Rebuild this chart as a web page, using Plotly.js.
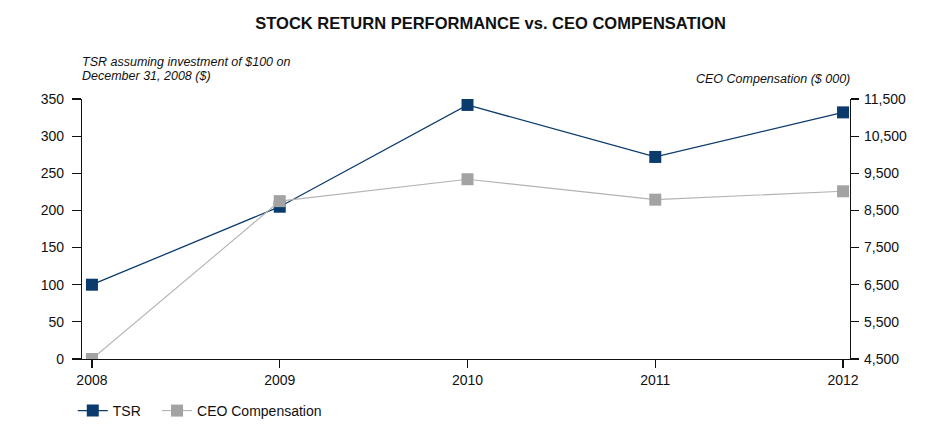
<!DOCTYPE html>
<html>
<head>
<meta charset="utf-8">
<script src="https://cdn.plot.ly/plotly-3.0.1.min.js"></script>
<style>html,body{margin:0;padding:0;background:#fff;}#chart{width:949px;height:431px;}</style>
</head>
<body>
<div id="chart"></div>
<script>
const years = [2008, 2009, 2010, 2011, 2012];
const tsr = [100, 205, 342, 272, 332];
const ceoComp = [4500, 8750, 9340, 8790, 9015];
const leftTicks = [0, 50, 100, 150, 200, 250, 300, 350];
const rightTicks = [4500, 5500, 6500, 7500, 8500, 9500, 10500, 11500];
const rightTickText = ['4,500', '5,500', '6,500', '7,500', '8,500', '9,500', '10,500', '11,500'];

const FONT = 'Liberation Sans, Arial, Helvetica, sans-serif';
const NAVY = '#0b3a6c';
const GRAY = '#a3a3a3';

const traces = [
  {
    x: years, y: tsr, name: 'TSR', type: 'scatter', mode: 'lines+markers',
    line: {color: NAVY, width: 1.3},
    marker: {symbol: 'square', size: 12, color: NAVY},
    yaxis: 'y', legend: 'legend'
  },
  {
    x: years, y: ceoComp, name: 'CEO Compensation', type: 'scatter', mode: 'lines+markers',
    line: {color: '#b3b3b3', width: 1.1},
    marker: {symbol: 'square', size: 12, color: GRAY},
    yaxis: 'y2', legend: 'legend2'
  }
];

const legendFont = {family: FONT, size: 14, color: '#111'};

const layout = {
  width: 949, height: 431,
  margin: {l: 82, r: 99, t: 99, b: 72, autoexpand: false},
  paper_bgcolor: '#fff', plot_bgcolor: '#fff',
  font: {family: FONT, size: 14, color: '#111'},
  title: {
    text: '<b>STOCK RETURN PERFORMANCE vs. CEO COMPENSATION</b>',
    font: {family: FONT, size: 16.5, color: '#111'},
    x: 0.517, xanchor: 'center', y: 0.945, yanchor: 'middle'
  },
  showlegend: true,
  legend: {
    orientation: 'h', x: -0.012, xanchor: 'left', y: -0.2, yanchor: 'middle',
    font: legendFont, itemwidth: 30
  },
  legend2: {
    orientation: 'h', x: 0.0977, xanchor: 'left', y: -0.2, yanchor: 'middle',
    font: legendFont, itemwidth: 30
  },
  xaxis: {
    type: 'linear', range: [2007.947, 2012.037],
    tickvals: years, ticktext: years.map(String),
    showgrid: false, zeroline: false,
    showline: true, linecolor: '#111', linewidth: 1.2,
    ticks: 'outside', ticklen: 8, tickcolor: '#111', tickwidth: 1.2,
    tickfont: {family: FONT, size: 14, color: '#111'}
  },
  yaxis: {
    range: [0, 350], tickvals: leftTicks,
    showgrid: false, zeroline: false,
    showline: true, linecolor: '#111', linewidth: 1.2,
    ticks: 'outside', ticklen: 9, tickcolor: '#111', tickwidth: 1.2,
    ticklabelstandoff: 5,
    tickfont: {family: FONT, size: 14, color: '#111'}
  },
  yaxis2: {
    range: [4500, 11500], tickvals: rightTicks, ticktext: rightTickText,
    overlaying: 'y', side: 'right',
    showgrid: false, zeroline: false,
    showline: true, linecolor: '#111', linewidth: 1.2,
    ticks: 'outside', ticklen: 8, tickcolor: '#111', tickwidth: 1.2,
    ticklabelstandoff: 2,
    tickfont: {family: FONT, size: 14, color: '#111'}
  },
  annotations: [
    {
      text: '<i>TSR assuming investment of $100 on</i>',
      xref: 'paper', yref: 'paper', x: -0.003, y: 1.142, xanchor: 'left', yanchor: 'middle',
      align: 'left', showarrow: false,
      font: {family: FONT, size: 12.5, color: '#111'}
    },
    {
      text: '<i>December 31, 2008 ($)</i>',
      xref: 'paper', yref: 'paper', x: -0.003, y: 1.088, xanchor: 'left', yanchor: 'middle',
      align: 'left', showarrow: false,
      font: {family: FONT, size: 12.5, color: '#111'}
    },
    {
      text: '<i>CEO Compensation ($ 000)</i>',
      xref: 'paper', yref: 'paper', x: 1.003, y: 1.077, xanchor: 'right', yanchor: 'middle',
      align: 'right', showarrow: false,
      font: {family: FONT, size: 12.5, color: '#111'}
    }
  ]
};

Plotly.newPlot('chart', traces, layout, {displayModeBar: false, staticPlot: true});
</script>
</body>
</html>
